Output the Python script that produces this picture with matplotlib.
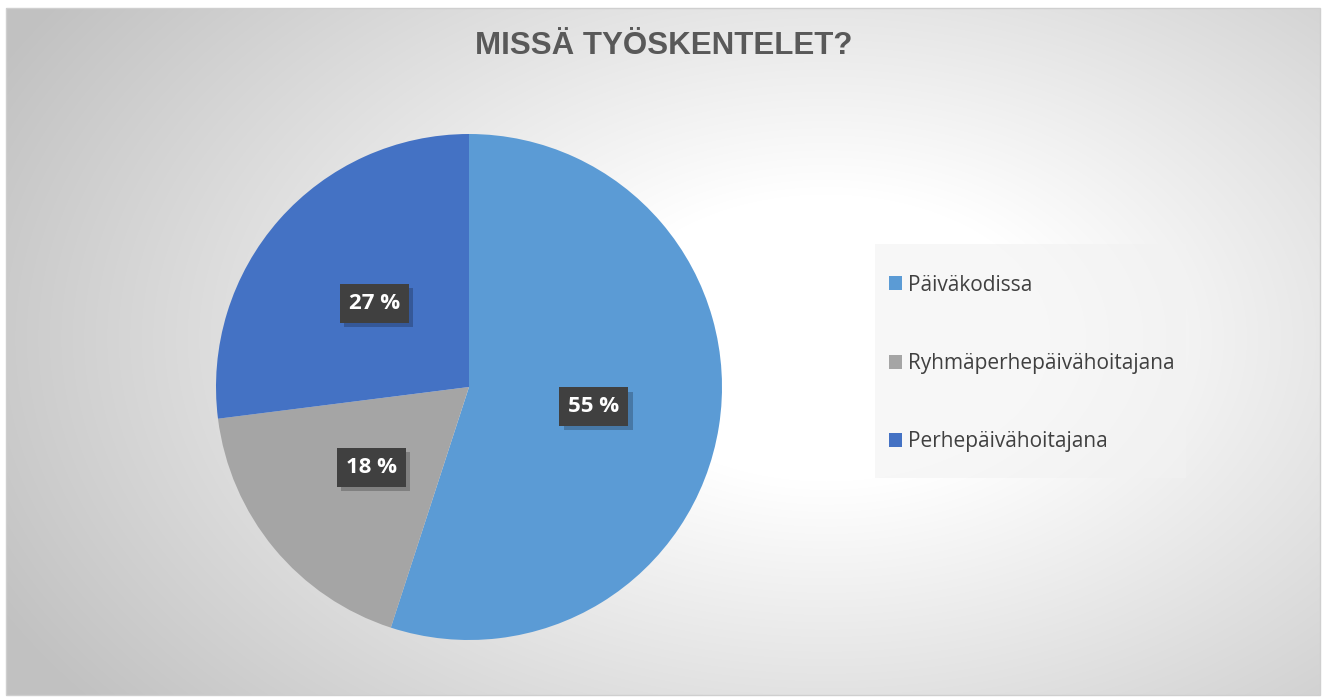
import numpy as np
import matplotlib
matplotlib.use('Agg')
import matplotlib.pyplot as plt
import matplotlib.patheffects as pe
from matplotlib.patches import Rectangle

# data
TITLE = 'MISSÄ TYÖSKENTELET?'
LABELS = ['Päiväkodissa', 'Ryhmäperhepäivähoitajana', 'Perhepäivähoitajana']
SHARES = [55, 18, 27]
COLORS = ['#5B9BD5', '#A5A5A5', '#4472C4']

W, H = 1326, 697

fig = plt.figure(figsize=(W / 100, H / 100), dpi=100, facecolor='white')

# chart area with radial grey gradient
bg = fig.add_axes([6 / W, 1 - 695 / H, 1314 / W, 687 / H])
yy, xx = np.mgrid[0:687, 0:1314]
r = np.sqrt(((xx - 820) / 750.0) ** 2 + ((yy - 330) / 480.0) ** 2)
grey = 255 - 62 * np.clip((r - 0.3) / 0.95, 0, 1)
img = np.dstack([grey, grey, grey]) / 255.0
bg.imshow(img, aspect='auto', interpolation='bilinear')
bg.set_axis_off()
fig.patches.append(Rectangle((6 / W, 1 - 695 / H), 1314 / W, 687 / H,
                             transform=fig.transFigure, facecolor='none',
                             edgecolor='#cfcfcf', linewidth=1.0))

fig.text(664 / W, 1 - 46 / H, TITLE, ha='center', va='center',
         fontsize=22.5, fontweight='bold', color='#595959',
         family='Liberation Sans')

# pie
ax = fig.add_axes([216 / W, 1 - 640 / H, 506 / W, 506 / H])
wedges, texts, autotexts = ax.pie(
    SHARES, colors=COLORS, startangle=90, counterclock=False,
    autopct=lambda p: f'{p:.0f} %', pctdistance=0.5,
    wedgeprops=dict(linewidth=0))
ax.set_xlim(-1, 1)
ax.set_ylim(-1, 1)

for t in autotexts:
    t.set_fontsize(16)
    t.set_fontweight('bold')
    t.set_color('white')
    t.set_family('Open Sans')
    t.set_bbox(dict(boxstyle='square,pad=0.4', facecolor='#404040',
                    edgecolor='none', linewidth=0.0))
    t.get_bbox_patch().set_path_effects([
        pe.SimplePatchShadow(offset=(3, -3), shadow_rgbFace='black', alpha=0.22),
        pe.Normal()])

# legend
fig.patches.append(Rectangle((875 / W, 1 - 478 / H), 311 / W, 234 / H,
                             transform=fig.transFigure, facecolor='#f2f2f2',
                             edgecolor='none', alpha=0.6))
leg = fig.legend(wedges, LABELS, loc='upper left',
                 bbox_to_anchor=(874 / W, 1 - 260 / H), frameon=False,
                 prop=dict(family='Open Sans', size=15), labelcolor='#404040',
                 handlelength=0.65, handleheight=0.65, handletextpad=0.3,
                 labelspacing=2.75, borderpad=0.2)

fig.savefig('out.png', dpi=100, facecolor='white')
